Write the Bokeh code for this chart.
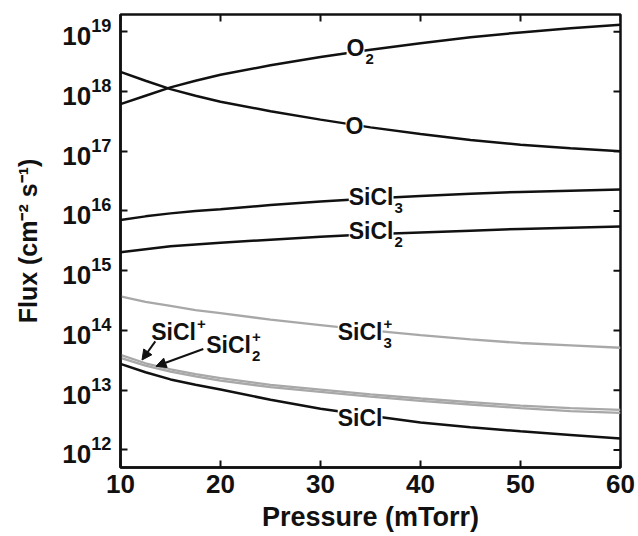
from bokeh.plotting import figure
from bokeh.models import FixedTicker, Range1d, Arrow, NormalHead, ColumnDataSource
from bokeh.core.properties import value
from bokeh.embed import file_html
from bokeh.resources import INLINE

# ---- data (pressure in mTorr, flux given as log10 of cm^-2 s^-1) ----
pressure = [10, 12.5, 15, 17.5, 20, 25, 30, 35, 40, 45, 50, 55, 60]
exp_O2 = [17.79, 17.93, 18.07, 18.18, 18.28, 18.44, 18.58, 18.70, 18.81, 18.91, 18.99, 19.06, 19.12]
exp_O = [18.33, 18.18, 18.04, 17.93, 17.83, 17.67, 17.53, 17.40, 17.29, 17.19, 17.11, 17.05, 17.00]
exp_SiCl3 = [15.85, 15.91, 15.96, 16.00, 16.03, 16.10, 16.16, 16.21, 16.25, 16.29, 16.32, 16.34, 16.36]
exp_SiCl2 = [15.31, 15.36, 15.41, 15.44, 15.47, 15.52, 15.57, 15.61, 15.64, 15.67, 15.70, 15.72, 15.74]
exp_SiCl3p = [14.57, 14.48, 14.41, 14.34, 14.29, 14.18, 14.09, 14.00, 13.92, 13.85, 13.79, 13.75, 13.71]
exp_SiClp = [13.59, 13.45, 13.35, 13.27, 13.20, 13.09, 13.01, 12.93, 12.86, 12.80, 12.74, 12.70, 12.67]
exp_SiCl2p = [13.54, 13.41, 13.31, 13.23, 13.16, 13.05, 12.97, 12.89, 12.82, 12.76, 12.70, 12.65, 12.62]
exp_SiCl = [13.44, 13.30, 13.18, 13.09, 13.01, 12.84, 12.69, 12.57, 12.46, 12.38, 12.31, 12.25, 12.19]

x_ticks = [10, 20, 30, 40, 50, 60]
y_tick_exponents = [12, 13, 14, 15, 16, 17, 18, 19]
x_lim = (10, 60)
y_lim_exp = (11.705, 19.29)

# curve labels: main text, subscript, superscript, anchor pressure, anchor log10 flux
label_main = ["O", "O", "SiCl", "SiCl", "SiCl", "SiCl", "SiCl", "SiCl"]
label_sub = ["2", "", "3", "2", "3", "", "", "2"]
label_sup = ["", "", "", "", "+", "", "+", "+"]
label_x = [34.4, 34.3, 37.3, 37.3, 36.2, 36.2, 17.55, 23.05]
label_exp = [18.73, 17.43, 16.24, 15.66, 13.98, 12.53, 13.98, 13.75]

# arrows: (start pressure, start exp) -> (end pressure, end exp)
arrow_x0 = [13.48, 18.28]
arrow_e0 = [13.817, 13.69]
arrow_x1 = [12.15, 13.55]
arrow_e1 = [13.505, 13.40]

FONT = "Liberation Sans"
BLACK = "#111111"
GRAY = "#a8a8a8"
FRAME_W, FRAME_H = 500, 455
TICK_LEN = 7

def flux(exps):
    return [10 ** e for e in exps]

p = figure(width=636, height=534, x_range=Range1d(*x_lim),
           y_range=Range1d(10 ** y_lim_exp[0], 10 ** y_lim_exp[1]), y_axis_type="log",
           output_backend="svg", toolbar_location=None,
           min_border_left=120, min_border_right=16, min_border_top=14,
           min_border_bottom=65)
p.grid.visible = False
p.outline_line_color = BLACK
p.outline_line_width = 2.5
p.background_fill_color = "white"

series_black = [exp_O2, exp_O, exp_SiCl3, exp_SiCl2, exp_SiCl]
series_gray = [exp_SiCl3p, exp_SiClp, exp_SiCl2p]
for s in series_gray:
    p.line(pressure, flux(s), line_color=GRAY, line_width=2.3)
for s in series_black:
    p.line(pressure, flux(s), line_color=BLACK, line_width=2.5)

# mirrored inner ticks on the top and right edges
dx = TICK_LEN / FRAME_W * (x_lim[1] - x_lim[0])
de = TICK_LEN / FRAME_H * (y_lim_exp[1] - y_lim_exp[0])
p.segment(x0=x_ticks, y0=[10 ** y_lim_exp[1]] * len(x_ticks),
          x1=x_ticks, y1=[10 ** (y_lim_exp[1] - de)] * len(x_ticks),
          line_color=BLACK, line_width=2)
p.segment(x0=[x_lim[1]] * len(y_tick_exponents), y0=flux(y_tick_exponents),
          x1=[x_lim[1] - dx] * len(y_tick_exponents), y1=flux(y_tick_exponents),
          line_color=BLACK, line_width=2)

# labels
src_main = ColumnDataSource(dict(x=label_x, y=flux(label_exp), text=label_main))
p.text(x="x", y="y", text="text", source=src_main, text_align="right",
       text_baseline="middle", text_font=value(FONT), text_font_style="bold",
       text_font_size="23px", text_color=BLACK, background_fill_color="white")

sub_idx = [i for i, s in enumerate(label_sub) if s]
src_sub = ColumnDataSource(dict(x=[label_x[i] for i in sub_idx],
                                y=flux([label_exp[i] for i in sub_idx]),
                                text=[label_sub[i] for i in sub_idx]))
p.text(x="x", y="y", text="text", source=src_sub, text_align="left",
       text_baseline="middle", text_font=value(FONT), text_font_style="bold",
       text_font_size="15px", text_color=BLACK, y_offset=11, x_offset=1,
       background_fill_color="white")

sup_idx = [i for i, s in enumerate(label_sup) if s]
src_sup = ColumnDataSource(dict(x=[label_x[i] for i in sup_idx],
                                y=flux([label_exp[i] for i in sup_idx]),
                                text=[label_sup[i] for i in sup_idx]))
p.text(x="x", y="y", text="text", source=src_sup, text_align="left",
       text_baseline="middle", text_font=value(FONT), text_font_style="bold",
       text_font_size="15px", text_color=BLACK, y_offset=-8, x_offset=1)

for i in range(len(arrow_x0)):
    p.add_layout(Arrow(end=NormalHead(size=10, fill_color=BLACK, line_color=BLACK),
                       x_start=arrow_x0[i], y_start=10 ** arrow_e0[i],
                       x_end=arrow_x1[i], y_end=10 ** arrow_e1[i],
                       line_color=BLACK, line_width=2))

def style(ax):
    ax.axis_line_width = 2.5
    ax.axis_line_color = BLACK
    ax.major_tick_line_width = 2
    ax.major_tick_line_color = BLACK
    ax.major_tick_in = TICK_LEN
    ax.major_tick_out = 0
    ax.minor_tick_in = 0
    ax.minor_tick_out = 0
    ax.major_label_text_font = FONT
    ax.major_label_text_font_style = "bold"
    ax.major_label_text_color = BLACK
    ax.major_label_text_font_size = "26px"
    ax.axis_label_text_font = FONT
    ax.axis_label_text_font_style = "bold"
    ax.axis_label_text_color = BLACK

xa = p.xaxis[0]
xa.ticker = FixedTicker(ticks=x_ticks)
style(xa)
xa.major_label_standoff = 7
xa.axis_label = "Pressure (mTorr)"
xa.axis_label_text_font_size = "27px"
xa.axis_label_standoff = 6

ya = p.yaxis[0]
ya.ticker = FixedTicker(ticks=flux(y_tick_exponents))
style(ya)
ya.major_label_standoff = 9
ya.axis_label = "Flux (cm\u207b\u00b2 s\u207b\u00b9)"
ya.axis_label_text_font_size = "25px"
ya.axis_label_standoff = 17

open("out.html", "w").write(file_html(p, INLINE))
